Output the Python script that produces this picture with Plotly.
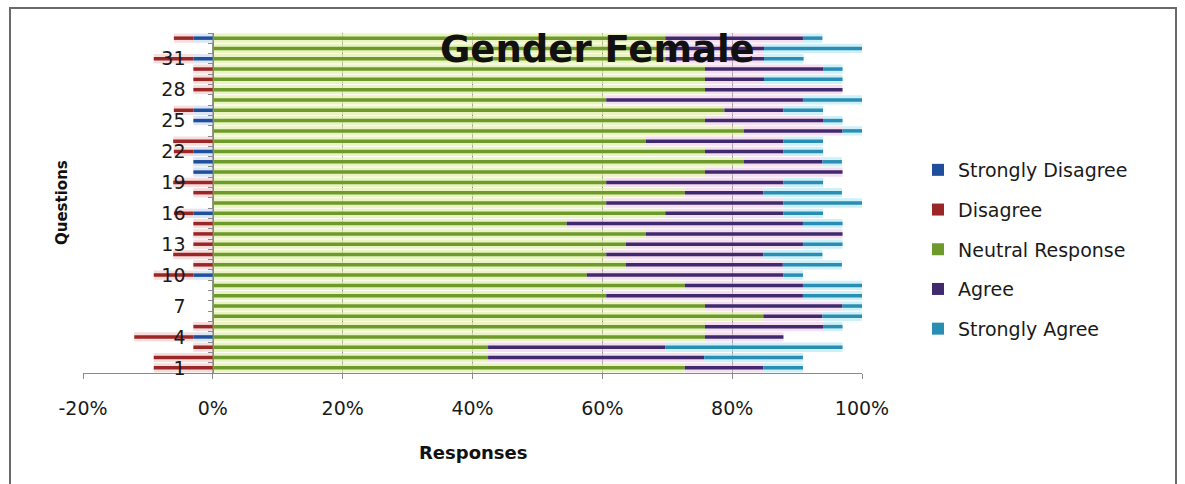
import plotly.graph_objects as go
import numpy as np

# ---------------- data (percent of responses, Q1..Q33) ----------------
questions = list(range(1, 34))
strongly_disagree = [0, 0, 0, 3.0, 0, 0, 0, 0, 0, 3.0, 0, 0, 0, 0, 0, 3.0, 0, 0, 0, 3.0,
                     3.0, 3.0, 0, 0, 3.0, 3.0, 0, 0, 0, 0, 3.0, 0, 3.0]
disagree = [9.1, 9.1, 3.0, 9.1, 3.0, 0, 0, 0, 0, 6.1, 3.0, 6.1, 3.0, 3.0, 3.0, 3.0, 0, 3.0,
            6.1, 0, 0, 3.0, 6.1, 0, 0, 3.0, 0, 3.0, 3.0, 3.0, 6.1, 0, 3.0]
neutral = [72.7, 42.4, 42.4, 75.8, 75.8, 84.8, 75.8, 60.6, 72.7, 57.6, 63.6, 60.6, 63.6, 66.7,
           54.5, 69.7, 60.6, 72.7, 60.6, 75.8, 81.8, 75.8, 66.7, 81.8, 75.8, 78.8, 60.6, 75.8,
           75.8, 75.8, 69.7, 69.7, 69.7]
agree = [12.1, 33.3, 27.3, 12.1, 18.2, 9.1, 21.2, 30.3, 18.2, 30.3, 24.2, 24.2, 27.3, 30.3,
         36.4, 18.2, 27.3, 12.1, 27.3, 21.2, 12.1, 12.1, 21.2, 15.2, 18.2, 9.1, 30.3, 21.2,
         9.1, 18.2, 15.2, 15.2, 21.2]
strongly_agree = [6.1, 15.2, 27.3, 0, 3.0, 6.1, 3.0, 9.1, 9.1, 3.0, 9.1, 9.1, 6.1, 0, 6.1, 6.1,
                  12.1, 12.1, 6.1, 0, 3.0, 6.1, 6.1, 3.0, 3.0, 6.1, 9.1, 0, 12.1, 3.0, 6.1,
                  15.2, 3.0]
tick_questions = [1, 4, 7, 10, 13, 16, 19, 22, 25, 28, 31]
x_ticks = [-20, 0, 20, 40, 60, 80, 100]
series_names = ["Strongly Disagree", "Disagree", "Neutral Response", "Agree", "Strongly Agree"]

# ---------------- styles ----------------
dark = ["#1f4e9c", "#9b2626", "#6e9a2c", "#3f2a6e", "#2a8db3"]
light = ["rgba(190,208,238,0.55)", "rgba(240,190,190,0.5)", "rgba(226,240,170,0.72)",
         "rgba(236,200,228,0.6)", "rgba(180,232,246,0.65)"]
FONT = "DejaVu Sans"

W, H = 1185, 484
L, R, T, B = 83, 862, 33, 373


def px(xp):
    return (xp - L) / (R - L)


def py(yp):
    return (B - yp) / (B - T)


sd = np.array(strongly_disagree)
d = np.array(disagree)
n = np.array(neutral)
a = np.array(agree)
sa = np.array(strongly_agree)
values = [-sd, -d, n, a, sa]
bases = [np.zeros_like(sd), -sd, np.zeros_like(n), n, n + a]

fig = go.Figure()
for i, name in enumerate(series_names):
    fig.add_trace(go.Bar(y=questions, x=values[i], base=bases[i], orientation="h",
                         width=0.9, marker=dict(color=light[i], line_width=0),
                         showlegend=False, hoverinfo="skip"))
for i, name in enumerate(series_names):
    fig.add_trace(go.Bar(y=questions, x=values[i], base=bases[i], orientation="h",
                         width=0.34, marker=dict(color=dark[i], line_width=0),
                         name=name, legendgroup=name))

grid = "#8a8a8a"
fig.update_layout(
    width=W, height=H,
    margin=dict(l=L, r=W - R, t=T, b=H - B, pad=0),
    barmode="overlay",
    paper_bgcolor="white", plot_bgcolor="white",
    font=dict(family=FONT, size=19, color="#1a1a1a"),
    xaxis=dict(range=[-20, 100], tickmode="array", tickvals=x_ticks,
               ticktext=[f"{v}%" for v in x_ticks],
               showgrid=True, gridcolor=grid, gridwidth=1, zeroline=False,
               showline=True, linecolor=grid, linewidth=1,
               ticks="outside", ticklen=5, tickcolor=grid,
               tickfont=dict(size=19), ticklabelstandoff=13, domain=[0, 1]),
    yaxis=dict(range=[0.5, 33.5], tickmode="array", tickvals=tick_questions,
               ticktext=[str(q) for q in tick_questions], ticks="",
               showgrid=False, zeroline=False, showline=True, linecolor=grid,
               anchor="free", position=px(213.3),
               minor=dict(tickmode="linear", tick0=0.5, dtick=1, ticks="outside",
                          ticklen=5, tickcolor=grid),
               tickfont=dict(size=19), ticklabelstandoff=24),
    legend=dict(x=px(918), y=py(151), xanchor="left", yanchor="top",
                traceorder="grouped", tracegroupgap=12, itemwidth=30,
                font=dict(size=19), bgcolor="rgba(0,0,0,0)"),
    showlegend=True,
    annotations=[
        dict(text="<b>Gender Female</b>", x=px(597), y=py(49), xref="paper", yref="paper",
             xanchor="center", yanchor="middle", showarrow=False,
             font=dict(size=37, color="#111111")),
        dict(text="<b>Questions</b>", x=px(62), y=py(203), xref="paper", yref="paper",
             xanchor="center", yanchor="middle", showarrow=False, textangle=-90,
             font=dict(size=15, color="#111111")),
        dict(text="<b>Responses</b>", x=px(473), y=py(452), xref="paper", yref="paper",
             xanchor="center", yanchor="middle", showarrow=False,
             font=dict(size=18, color="#111111")),
    ],
    shapes=[
        dict(type="rect", xref="paper", yref="paper", x0=px(10), x1=px(1176),
             y0=py(500), y1=py(8), line=dict(color="#6a6a6a", width=2), layer="below"),
    ],
)

fig.write_html("out.html")
